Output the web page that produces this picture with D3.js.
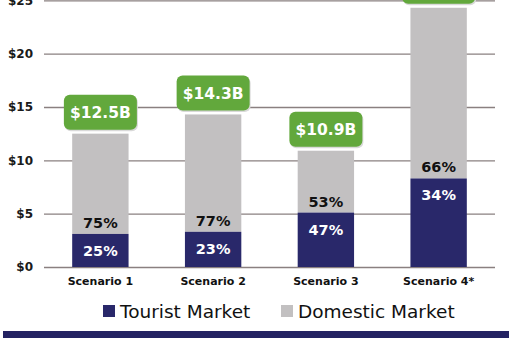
<!DOCTYPE html>
<html><head><meta charset="utf-8">
<script src="https://cdn.jsdelivr.net/npm/d3@7"></script>
<style>
html,body{margin:0;padding:0;background:#fff;}
svg{display:block;}
text{font-family:"DejaVu Sans",sans-serif;}
</style></head>
<body>
<svg id="c" width="517" height="338"></svg>
<script>
const categories = ["Scenario 1","Scenario 2","Scenario 3","Scenario 4*"];
const tourist = [3.1, 3.3, 5.1, 8.3];
const domestic = [9.4, 11.0, 5.8, 16.0];
const totalLabels = ["$12.5B","$14.3B","$10.9B","$24.3B"];
const touristPct = ["25%","23%","47%","34%"];
const domesticPct = ["75%","77%","53%","66%"];
const yTicks = [0,5,10,15,20,25];
const seriesNames = ["Tourist Market","Domestic Market"];

const navy = "#29286a", grey = "#c2c0c1", green = "#62a83c";
const svg = d3.select("#c");
svg.append("rect").attr("width",517).attr("height",338).attr("fill","#fff");

const x = d3.scaleBand().domain(categories).range([44,495]).paddingInner(0.5).paddingOuter(0.25);
const y = d3.scaleLinear().domain([0,25]).range([267,0.3]);

const gAxis = svg.append("g").attr("transform","translate(44,0)")
  .call(d3.axisLeft(y).tickValues(yTicks).tickSize(-451).tickFormat(d=>"$"+d));
gAxis.select(".domain").remove();
gAxis.selectAll(".tick line").attr("stroke","#8a8080").attr("stroke-width",1.3);
gAxis.selectAll(".tick text").attr("x",-11).attr("fill","#1a1a1a")
  .attr("font-size",12).attr("font-weight","bold");

const data = categories.map((c,i)=>({c,t:tourist[i],d:domestic[i],tot:tourist[i]+domestic[i],
  lab:totalLabels[i],tp:touristPct[i],dp:domesticPct[i]}));

const bw = x.bandwidth();
const g = svg.append("g");
g.selectAll(".dom").data(data).join("rect")
  .attr("x",d=>x(d.c)).attr("width",bw)
  .attr("y",d=>y(d.tot)).attr("height",d=>y(d.t)-y(d.tot)).attr("fill",grey);
g.selectAll(".tou").data(data).join("rect")
  .attr("x",d=>x(d.c)).attr("width",bw)
  .attr("y",d=>y(d.t)).attr("height",d=>y(0)-y(d.t)).attr("fill",navy);

g.selectAll(".tp").data(data).join("text")
  .attr("x",d=>x(d.c)+bw/2).attr("y",d=>y(d.t)+22)
  .attr("text-anchor","middle").attr("fill","#fff").attr("font-size",14.5).attr("font-weight","bold")
  .text(d=>d.tp);
g.selectAll(".dp").data(data).join("text")
  .attr("x",d=>x(d.c)+bw/2).attr("y",d=>y(d.t)-6)
  .attr("text-anchor","middle").attr("fill","#111").attr("font-size",14.5).attr("font-weight","bold")
  .text(d=>d.dp);

// callouts
const cw = 73, ch = 35;
const call = g.selectAll(".call").data(data).join("g");
call.append("rect")
  .attr("x",d=>x(d.c)+bw/2-cw/2+1).attr("y",d=>y(d.tot)-4-ch+1.5)
  .attr("width",cw).attr("height",ch).attr("rx",6).attr("fill","#d9d9d9");
call.append("rect")
  .attr("x",d=>x(d.c)+bw/2-cw/2).attr("y",d=>y(d.tot)-4-ch)
  .attr("width",cw).attr("height",ch).attr("rx",6).attr("fill",green);
call.append("text")
  .attr("x",d=>x(d.c)+bw/2).attr("y",d=>y(d.tot)-4-ch/2+6)
  .attr("text-anchor","middle").attr("fill","#fff").attr("font-size",15.5).attr("font-weight","bold")
  .text(d=>d.lab);

// x labels
g.selectAll(".xl").data(data).join("text")
  .attr("x",d=>x(d.c)+bw/2).attr("y",284.5)
  .attr("text-anchor","middle").attr("fill","#111").attr("font-size",11).attr("font-weight","bold")
  .text(d=>d.c);

// legend
const leg = [{n:seriesNames[0],col:navy,sx:103,tx:120},{n:seriesNames[1],col:grey,sx:281,tx:298}];
const lg = svg.selectAll(".lg").data(leg).join("g");
lg.append("rect").attr("x",d=>d.sx).attr("y",305).attr("width",12).attr("height",12).attr("fill",d=>d.col);
lg.append("text").attr("x",d=>d.tx).attr("y",318).attr("font-size",18.5).attr("fill","#111").text(d=>d.n);

svg.append("rect").attr("x",3).attr("y",331).attr("width",506).attr("height",10).attr("fill","#232262");
</script>
</body></html>
